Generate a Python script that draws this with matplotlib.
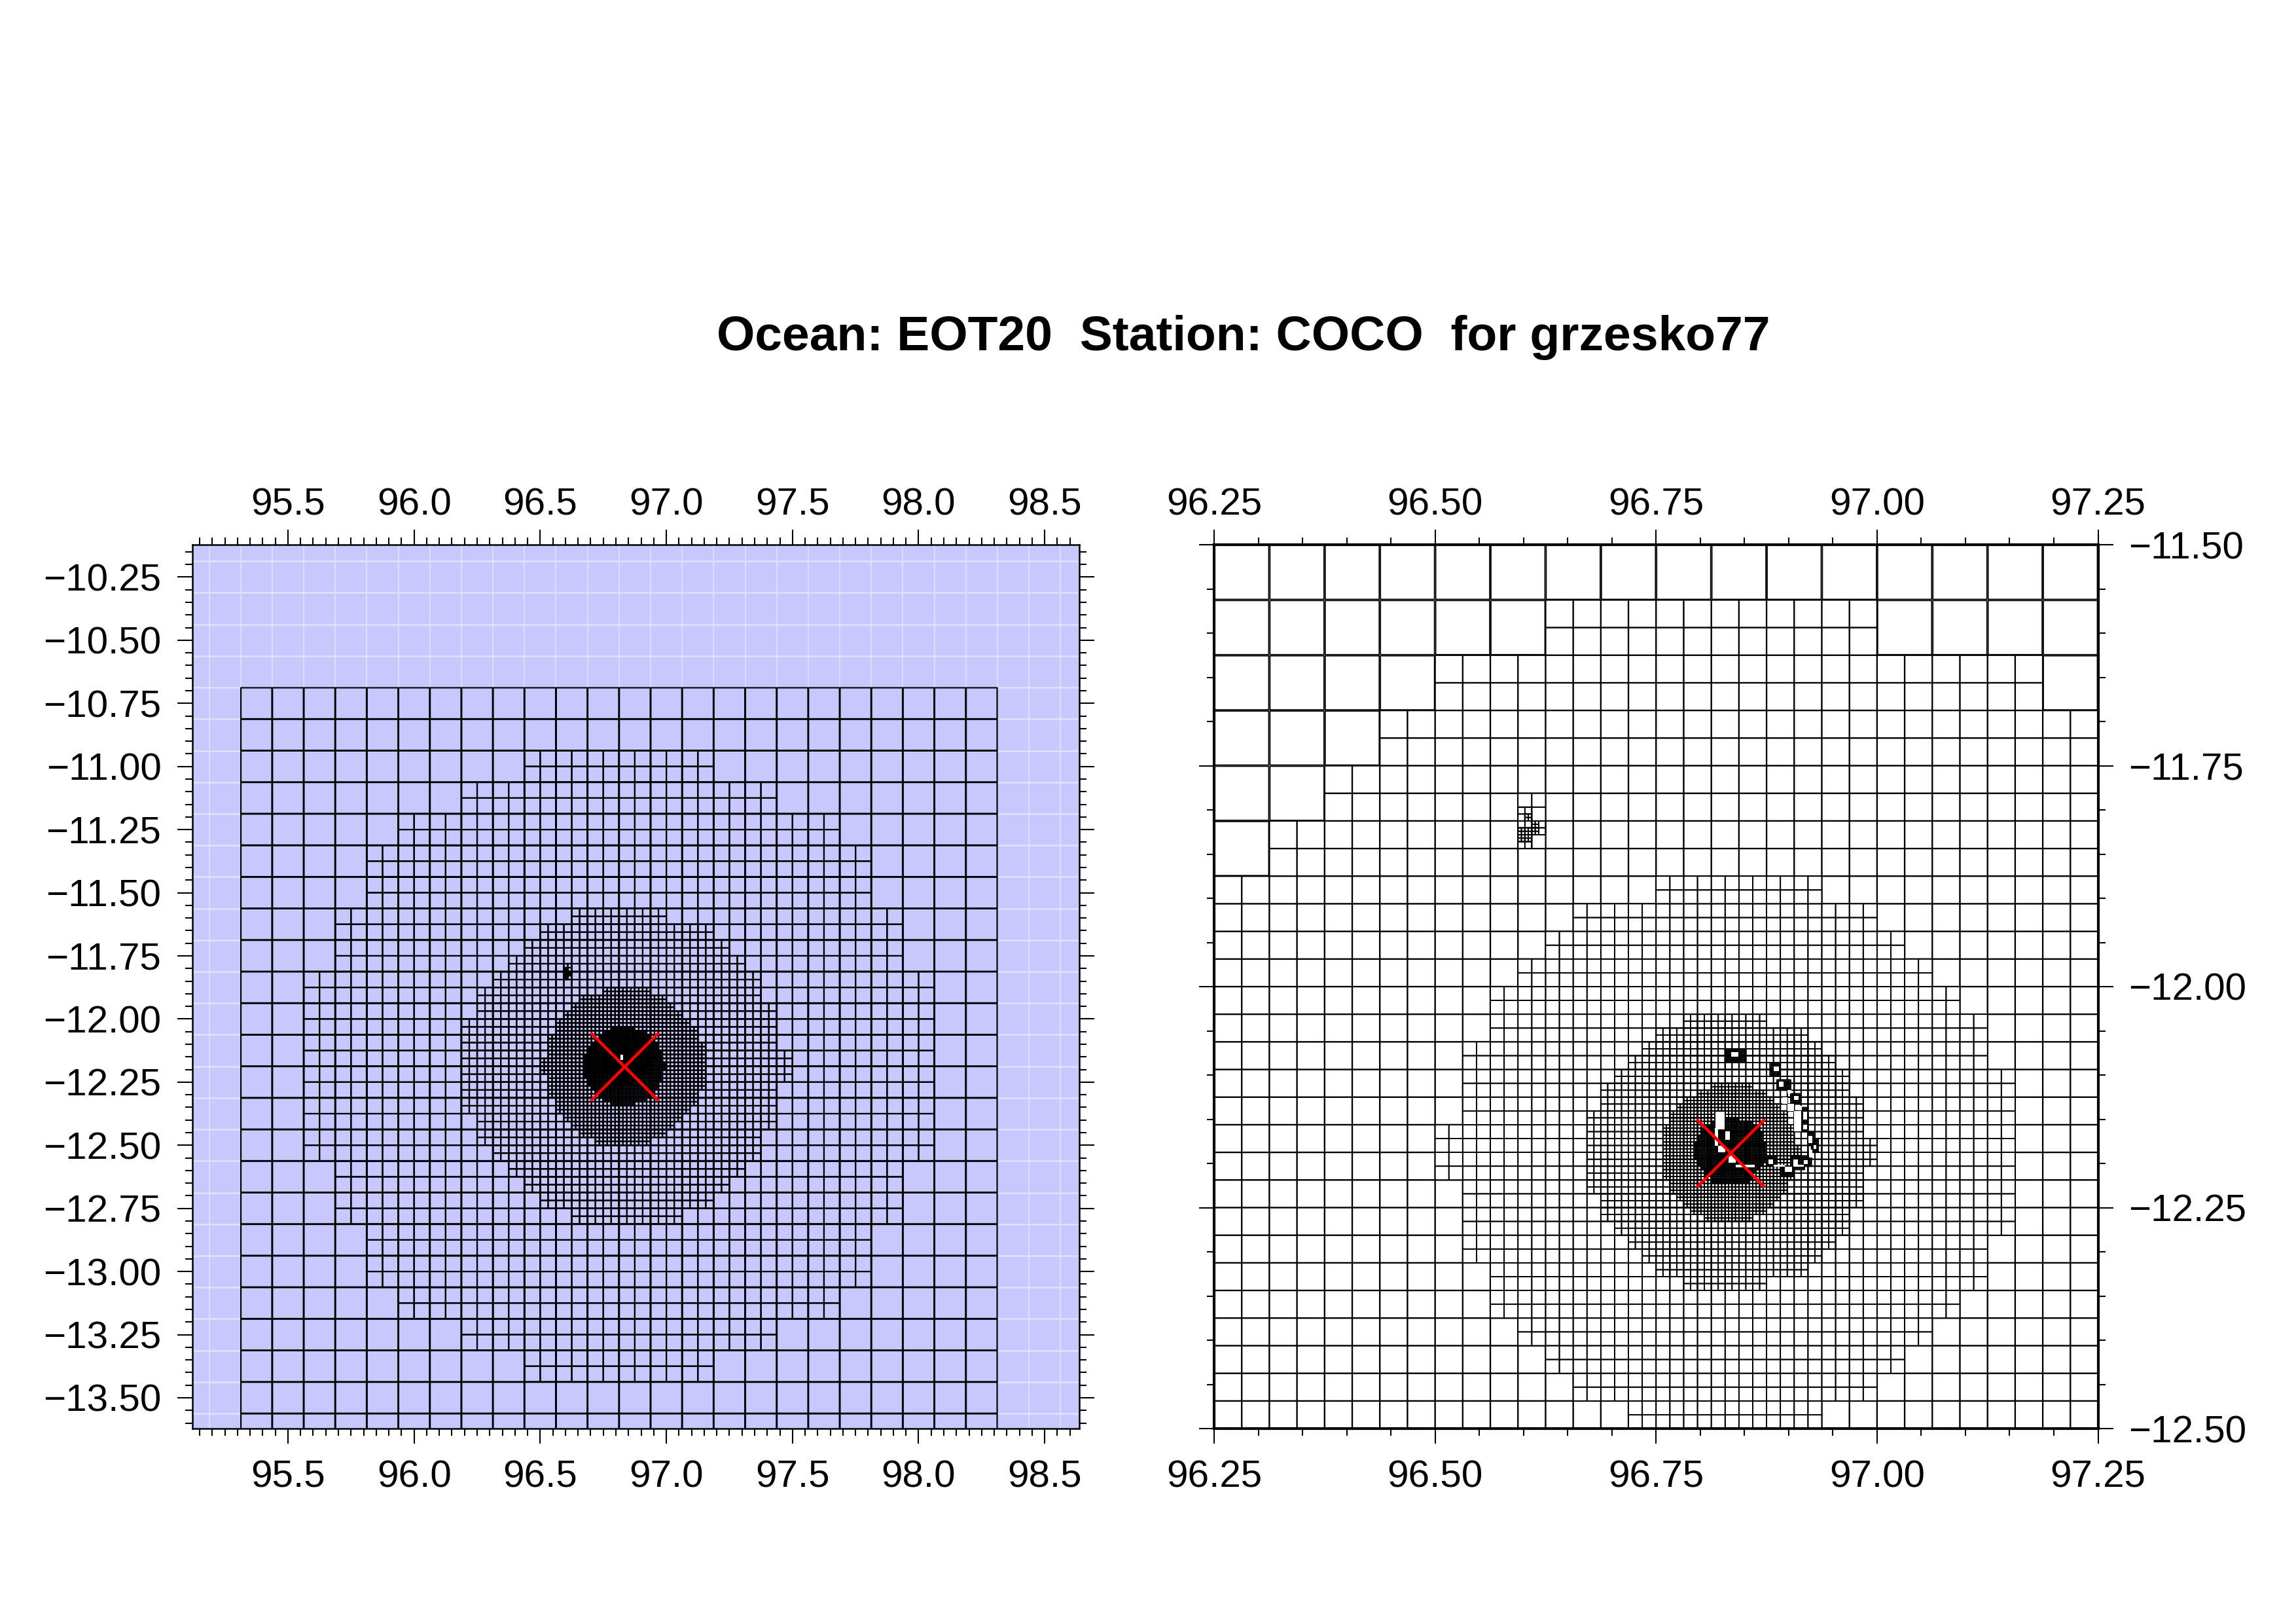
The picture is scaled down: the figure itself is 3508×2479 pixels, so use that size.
# plot.py
# Ocean loading grid around COCO: the same refined cell mesh shown at two map scales.
import math
import matplotlib
matplotlib.use('Agg')
import matplotlib.pyplot as plt
from matplotlib.collections import PolyCollection
from matplotlib.ticker import MultipleLocator
from matplotlib.transforms import ScaledTranslation

plt.rcParams['font.family'] = ['Liberation Sans', 'DejaVu Sans']

# --- Data ---------------------------------------------------------------------------------------
title_text = 'Ocean: EOT20  Station: COCO  for grzesko77'

station_lon = 96.834
station_lat = -12.188

left_xlim = (95.12, 98.637)
left_ylim = (-13.622, -10.122)
right_xlim = (96.25, 97.25)
right_ylim = (-12.5, -11.5)

left_xticks = [95.5, 96.0, 96.5, 97.0, 97.5, 98.0, 98.5]
left_xlabels = ['95.5', '96.0', '96.5', '97.0', '97.5', '98.0', '98.5']
left_yticks = [-10.25, -10.5, -10.75, -11.0, -11.25, -11.5, -11.75, -12.0, -12.25, -12.5, -12.75, -13.0, -13.25, -13.5]
left_ylabels = ['\u221210.25', '\u221210.50', '\u221210.75', '\u221211.00', '\u221211.25', '\u221211.50', '\u221211.75',
                '\u221212.00', '\u221212.25', '\u221212.50', '\u221212.75', '\u221213.00', '\u221213.25', '\u221213.50']
right_xticks = [96.25, 96.5, 96.75, 97.0, 97.25]
right_xlabels = ['96.25', '96.50', '96.75', '97.00', '97.25']
right_yticks = [-11.5, -11.75, -12.0, -12.25, -12.5]
right_ylabels = ['\u221211.50', '\u221211.75', '\u221212.00', '\u221212.25', '\u221212.50']

# Outer and inner grid origins (lon, lat)
outer_origin = (95.3125, -10.6875)
inner_origin = (96.5, -11.875)

# Refined zones: first row, then for each row the first and end column of the parent cells
# 1/8 degree cells
zone8_rows = 0
zone8_start = [0] * 24
zone8_end = [24] * 24
# 1/8 parents -> 1/16 cells
zone16_rows = 2
zone16_start = [9, 7, 5, 4, 4, 3, 3, 2, 2, 2, 2, 2, 2, 3, 3, 4, 4, 5, 7, 9]
zone16_end = [15, 17, 19, 20, 20, 21, 21, 22, 22, 22, 22, 22, 22, 21, 21, 20, 20, 19, 17, 15]
# 1/16 parents -> 1/32 cells
zone32_rows = 14
zone32_start = [21, 19, 18, 17, 16, 15, 15, 14, 14, 14, 14, 14, 14, 15, 15, 16, 17, 18, 19, 21]
zone32_end = [27, 30, 31, 32, 33, 33, 34, 34, 34, 35, 35, 34, 34, 34, 33, 33, 32, 31, 30, 28]
# 1/32 parents -> 1/64 cells
zone64_rows = 0
zone64_start = [8, 5, 4, 3, 2, 2, 1, 1, 1, 0, 0, 1, 1, 1, 2, 2, 3, 4, 5, 7]
zone64_end = [14, 16, 17, 18, 19, 20, 20, 21, 21, 21, 21, 21, 21, 20, 20, 19, 18, 17, 16, 14]
# 1/64 parents -> 1/128 cells
zone128_rows = 10
zone128_start = [18, 16, 15, 14, 13, 12, 12, 11, 11, 11, 11, 11, 11, 12, 12, 13, 14, 15, 16, 18]
zone128_end = [24, 27, 28, 29, 30, 30, 31, 31, 31, 32, 32, 31, 31, 31, 30, 30, 29, 28, 27, 24]
# 1/128 parents -> 1/256 cells
zone256_rows = 30
zone256_start = [40, 38, 36, 35, 34, 34, 33, 33, 33, 33, 33, 33, 33, 33, 34, 34, 35, 36, 37, 39]
zone256_end = [46, 48, 49, 50, 51, 51, 52, 52, 52, 53, 53, 52, 52, 52, 51, 51, 50, 49, 48, 46]
# 1/256 parents -> 1/512 cells
zone512_rows = 70
zone512_start = [84, 80, 78, 77, 77, 76, 76, 75, 75, 75, 75, 75, 76, 76, 77, 78, 78, 80, 80]
zone512_end = [88, 92, 93, 94, 95, 95, 95, 96, 96, 96, 96, 96, 96, 95, 94, 93, 92, 92, 91]

# Local refinement near small islands, blocks given as (col0, col1, row0, row1) of parent cells
north_keeling_32 = [(3, 4, -3, -1)]
north_keeling_64 = [(6, 7, -5, -2), (7, 8, -4, -3)]
north_keeling_128 = [(12, 14, -7, -5), (14, 15, -8, -6), (13, 14, -9, -8)]
coast_128 = [(42, 45, 25, 27)]
coast_256 = [(84, 90, 50, 54), (97, 100, 54, 58), (99, 103, 59, 62), (103, 106, 63, 66), (106, 108, 67, 71),
             (106, 108, 71, 74), (108, 110, 74, 78), (109, 111, 76, 80), (96, 99, 81, 84), (100, 104, 84, 87),
             (103, 107, 81, 85), (107, 109, 81, 84)]

# Land without ocean cells, blocks given in 1/256 degree (col0, col1, row0, row1)
land_blocks = [(81.2, 83.9, 68.2, 73.3), (81, 82, 73, 78), (82, 84, 78, 80), (85, 87, 81, 83), (84.1, 85.4, 73.9, 76.4),
               (87, 92.5, 83.6, 84.4), (85.8, 87.9, 51, 52.2), (98.1, 99.5, 55.2, 56.5), (99.5, 101, 59.5, 61),
               (104, 105.2, 63.7, 64.8), (102, 103.2, 62, 63), (105.2, 106.3, 66.6, 67.8), (106.6, 107.7, 68.3, 70.5),
               (106.6, 107.7, 72, 73.3), (108.2, 109.2, 75.2, 77.4), (109.6, 110.4, 77.8, 79), (108.3, 109.2, 79.3, 81.5),
               (96.5, 97.9, 82, 83.4), (98.1, 101.3, 83.6, 84.2), (101.3, 103.3, 84.2, 85.7), (103.7, 105, 82, 84.2),
               (105, 106.7, 83.6, 84.2), (106.7, 108, 82.2, 83.4), (100.5, 102, 64, 66), (102, 104, 66, 68),
               (104, 106, 68, 70), (104, 106, 70, 72), (104, 106, 72, 74)]

# --- Colours and sizes --------------------------------------------------------------------------
ocean_colour = '#C8C8FF'
seam_colour = '#E2E2FF'
left_cell_width = 0.52
right_cell_width = 0.43
left_gap = {8: 0.001}
right_gap = {16: 0.0007, 32: 0.0002}


# --- Helpers ------------------------------------------------------------------------------------
def block_cells(origin, parent_size, blocks, split=2):
    """Returns (lon0, lon1, lat0, lat1) for each child cell in a list of parent blocks."""
    size = parent_size / split
    cells = []
    for col0, col1, row0, row1 in blocks:
        for i in range(col0 * split, col1 * split):
            for j in range(row0 * split, row1 * split):
                lon0 = origin[0] + i * size
                lat0 = origin[1] - j * size
                cells.append((lon0, lon0 + size, lat0 - size, lat0))
    return cells


def zone_blocks(first_row, starts, ends):
    return [(s, e, first_row + k, first_row + k + 1) for k, (s, e) in enumerate(zip(starts, ends))]


def cell_key(cell, d):
    return (math.floor((cell[0] + cell[1]) / 2 * d), math.floor((cell[2] + cell[3]) / 2 * d))


def leaf_cells(cells, d, finer_cells):
    # a cell that was split shows only through its children
    split = {cell_key(c, d) for c in finer_cells}
    return [c for c in cells if cell_key(c, d) not in split]


def add_cells(ax, cells, width, gap=0.0):
    verts = [[(a + gap, c + gap), (b - gap, c + gap), (b - gap, d - gap), (a + gap, d - gap)] for a, b, c, d in cells]
    coll = PolyCollection(verts, facecolors='none', edgecolors='black', linewidths=width, zorder=3)
    coll.set_snap(False)
    ax.add_collection(coll)


def style_axes(ax, xlim, ylim, xticks, xlabels, yticks, ylabels, frame_width):
    ax.set_xlim(*xlim)
    ax.set_ylim(*ylim)
    ax.set_xticks(xticks)
    ax.set_xticklabels(xlabels)
    ax.set_yticks(yticks)
    ax.set_yticklabels(ylabels)
    ax.xaxis.set_minor_locator(MultipleLocator(0.05))
    ax.yaxis.set_minor_locator(MultipleLocator(0.05))
    ax.tick_params(which='major', direction='out', length=5.5, width=0.5, top=True, right=True,
                   labeltop=True, labelbottom=True, labelsize=14, pad=5.8)
    ax.tick_params(which='minor', direction='out', length=2.6, width=0.5, top=True, right=True)
    for spine in ax.spines.values():
        spine.set_linewidth(frame_width)
        spine.set_zorder(6)
    # top labels sit closer to the ticks than the bottom ones
    shift = ScaledTranslation(0, -3.2 / 72, fig.dpi_scale_trans)
    for tick in ax.xaxis.get_major_ticks():
        tick.label2.set_transform(tick.label2.get_transform() + shift)


# --- Build all cell lists -----------------------------------------------------------------------
zones = [
    (8, block_cells(outer_origin, 1 / 8, zone_blocks(zone8_rows, zone8_start, zone8_end), split=1)),
    (16, block_cells(outer_origin, 1 / 8, zone_blocks(zone16_rows, zone16_start, zone16_end))),
    (32, block_cells(outer_origin, 1 / 16, zone_blocks(zone32_rows, zone32_start, zone32_end))),
    (64, block_cells(inner_origin, 1 / 32, zone_blocks(zone64_rows, zone64_start, zone64_end)) +
     block_cells(inner_origin, 1 / 32, north_keeling_32)),
    (128, block_cells(inner_origin, 1 / 64, zone_blocks(zone128_rows, zone128_start, zone128_end)) +
     block_cells(inner_origin, 1 / 64, north_keeling_64)),
    (256, block_cells(inner_origin, 1 / 128, zone_blocks(zone256_rows, zone256_start, zone256_end)) +
     block_cells(inner_origin, 1 / 128, north_keeling_128) + block_cells(inner_origin, 1 / 128, coast_128)),
    (512, block_cells(inner_origin, 1 / 256, zone_blocks(zone512_rows, zone512_start, zone512_end)) +
     block_cells(inner_origin, 1 / 256, coast_256)),
]

# --- Figure -------------------------------------------------------------------------------------
fig_w, fig_h = 3508, 2479
fig = plt.figure(figsize=(fig_w / 300, fig_h / 300), dpi=300)
ax_left = fig.add_axes([293.5 / fig_w, 1 - 2182 / fig_h, 1355.5 / fig_w, 1350 / fig_h])
ax_right = fig.add_axes([1855 / fig_w, 1 - 2182 / fig_h, 1350.5 / fig_w, 1350 / fig_h])

fig.text(1900 / fig_w, 1 - 515 / fig_h, title_text, fontsize=18, fontweight='bold', ha='center', va='center')

# Left panel background: filled tiles leave pale seams every 1/8 degree
ax_left.set_facecolor(ocean_colour)
seam = left_xlim[0] - (left_xlim[0] - outer_origin[0]) % (1 / 8)
while seam < left_xlim[1]:
    ax_left.axvline(seam, color=seam_colour, lw=0.4, zorder=1)
    seam += 1 / 8
seam = outer_origin[1] + (left_ylim[1] - outer_origin[1]) // (1 / 8) / 8
while seam > left_ylim[0]:
    ax_left.axhline(seam, color=seam_colour, lw=0.6, zorder=1)
    seam -= 1 / 8

for k, (d, cells) in enumerate(zones):
    add_cells(ax_left, cells, left_cell_width, left_gap.get(d, 0.0))
    if d >= 16:
        shown = leaf_cells(cells, d, zones[k + 1][1]) if d in right_gap else cells
        add_cells(ax_right, shown, right_cell_width, right_gap.get(d, 0.0))

# Land blocks go over the lines; the coarser left panel only keeps what is wider than its line width
for col0, col1, row0, row1 in land_blocks:
    lon0, lon1 = inner_origin[0] + col0 / 256, inner_origin[0] + col1 / 256
    lat0, lat1 = inner_origin[1] - row1 / 256, inner_origin[1] - row0 / 256
    ax_right.fill([lon0, lon1, lon1, lon0], [lat0, lat0, lat1, lat1], color='white', lw=0, zorder=4)
    if (lon1 - lon0) > 0.008 and (lat1 - lat0) > 0.012:
        ax_left.fill([lon0, lon1, lon1, lon0], [lat0, lat0, lat1, lat1], color='white', lw=0, zorder=4)

for ax in (ax_left, ax_right):
    ax.plot([station_lon], [station_lat], marker='x', ms=25, mew=1.1, color='#FF0000', ls='none', zorder=5)

style_axes(ax_left, left_xlim, left_ylim, left_xticks, left_xlabels, left_yticks, left_ylabels, 0.6)
style_axes(ax_right, right_xlim, right_ylim, right_xticks, right_xlabels, right_yticks, right_ylabels, 1.0)
ax_right.tick_params(which='major', labelleft=False, labelright=True)
ax_left.tick_params(which='major', labelleft=True, labelright=False)

fig.savefig('out.png', dpi=300)
